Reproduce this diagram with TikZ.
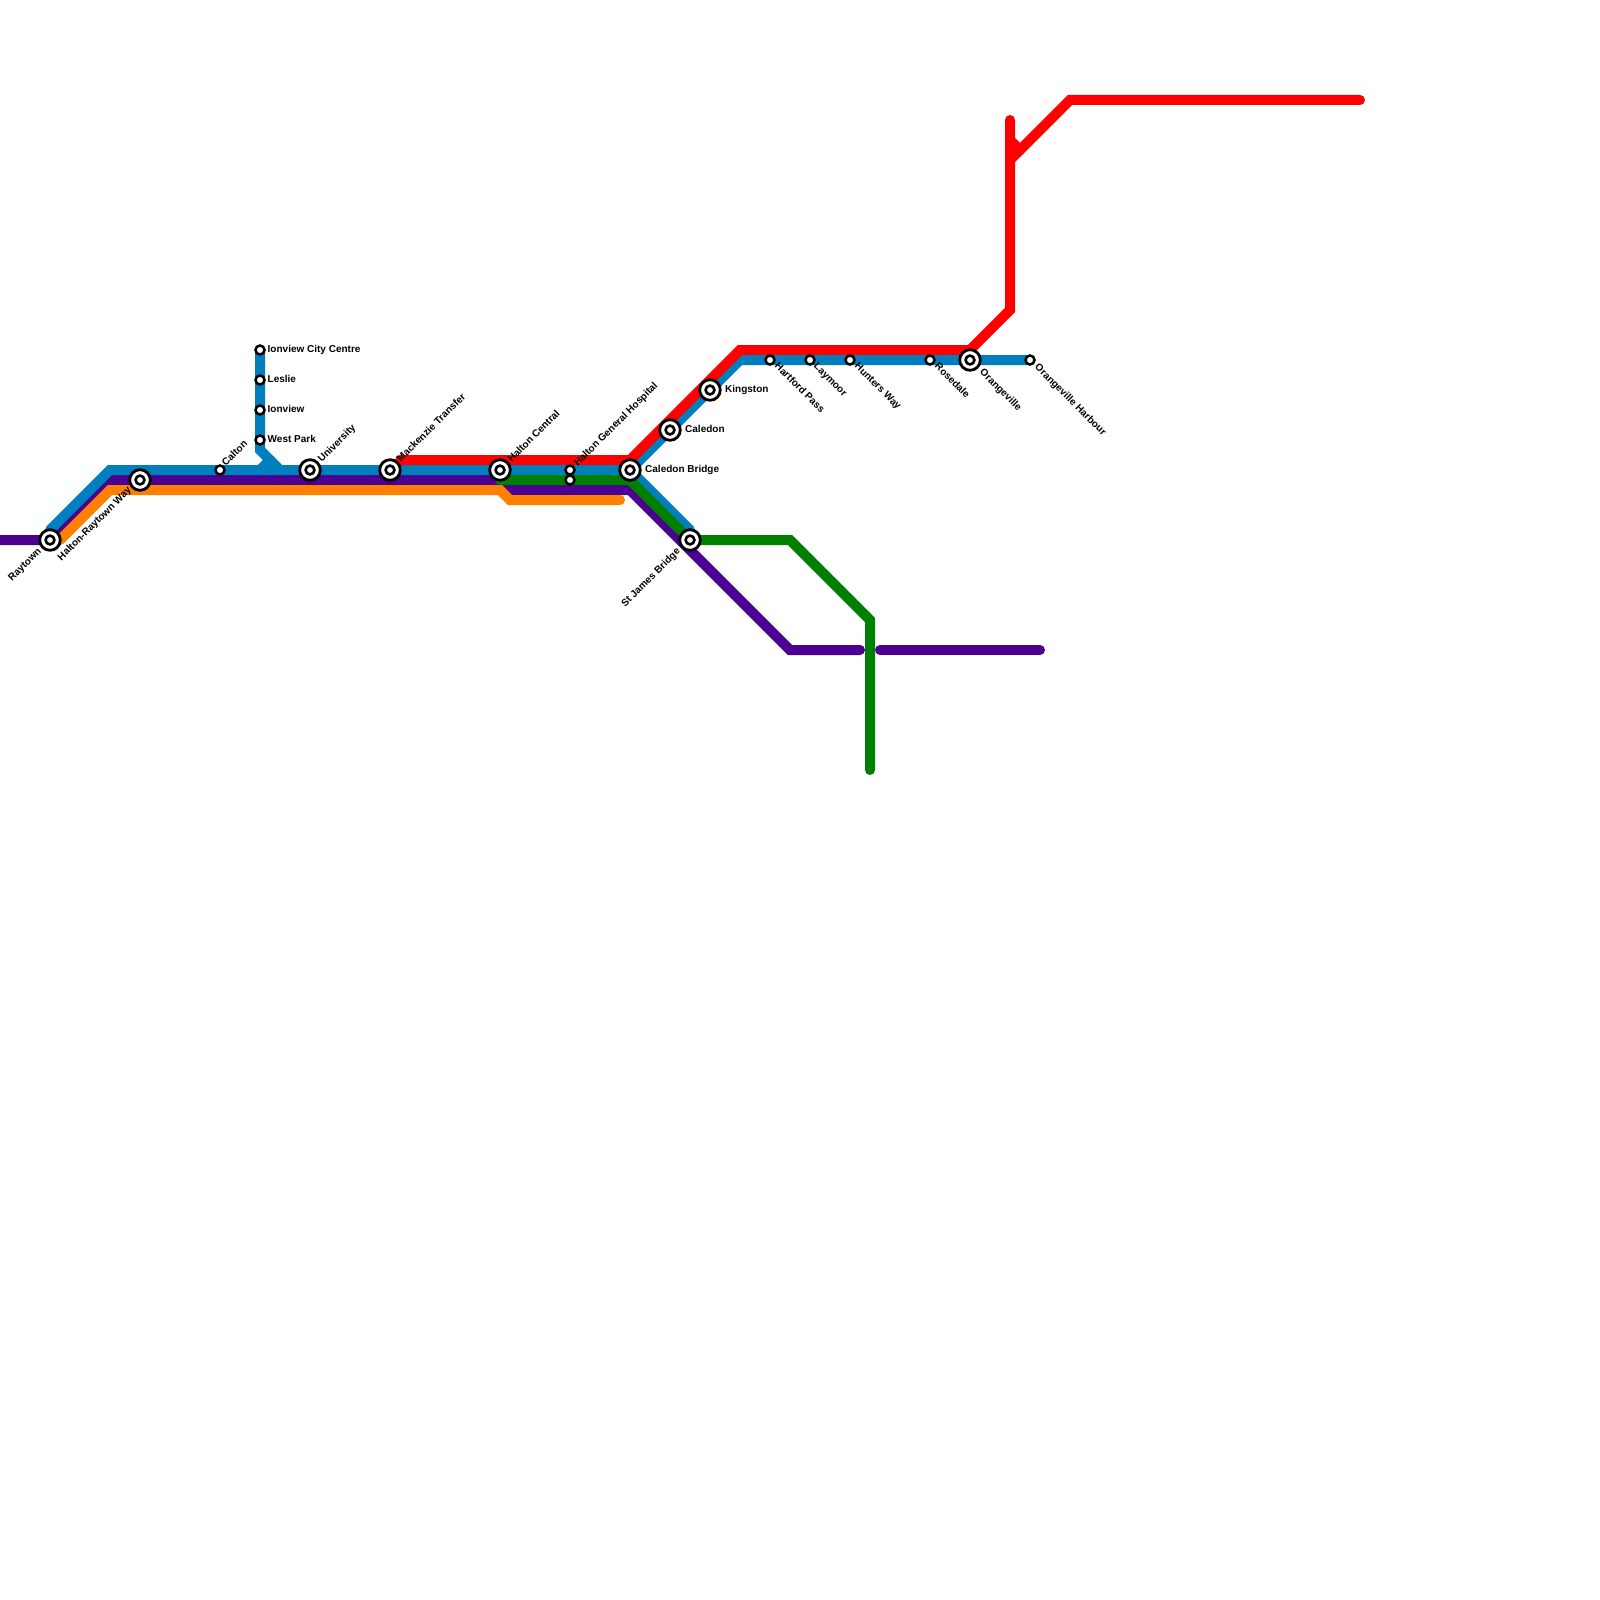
\documentclass[tikz,border=0pt]{standalone}
\usepackage{fontspec}
\setmainfont{Liberation Sans}
\definecolor{lblue}{RGB}{0,127,190}
\definecolor{lpurple}{RGB}{75,0,145}
\definecolor{lorange}{RGB}{255,128,0}
\definecolor{lgreen}{RGB}{0,128,0}
\definecolor{lred}{RGB}{255,0,0}
\tikzset{
  metro/.style={line width=10pt,line cap=round,line join=miter,miter limit=10},
  smallst/.style={circle,draw=black,fill=white,line width=2.5pt,minimum size=9pt,inner sep=0pt},
  bigring/.style={circle,draw=black,fill=white,line width=2.8pt,minimum size=20.6pt,inner sep=0pt},
  bigcore/.style={circle,draw=black,fill=white,line width=2.6pt,minimum size=8.8pt,inner sep=0pt},
  lab/.style={inner sep=0pt,text height=7.2pt,text depth=2.1pt,font=\fontsize{10}{12}\selectfont\bfseries,text=black},
  labE/.style={lab,anchor=west},
  labUR/.style={lab,anchor=west,rotate=45},
  labDR/.style={lab,anchor=west,rotate=-45},
  labDL/.style={lab,anchor=east,rotate=45}
}
\newcommand{\bigst}[2]{\node[bigring] (#1) at (#2) {};\node[bigcore] (#1c) at (#2) {};}
\begin{document}
\begin{tikzpicture}[x=1pt,y=-1pt]
\useasboundingbox (0,0) rectangle (1600,1600);
\fill[white] (0,0) rectangle (1600,1600);
% station positions
\coordinate (raytown) at (50,540);
\coordinate (hrw) at (140,480);
\coordinate (calton) at (220,470);
\coordinate (univ) at (310,470);
\coordinate (mack) at (390,470);
\coordinate (hc) at (500,470);
\coordinate (hgh) at (570,470);
\coordinate (hgh2) at (570,480);
\coordinate (cb) at (630,470);
\coordinate (cal) at (670,430);
\coordinate (king) at (710,390);
\coordinate (stj) at (690,540);
\coordinate (hart) at (770,360);
\coordinate (lay) at (810,360);
\coordinate (hunt) at (850,360);
\coordinate (rose) at (930,360);
\coordinate (orange) at (970,360);
\coordinate (harb) at (1030,360);
\coordinate (icc) at (260,350);
\coordinate (les) at (260,380);
\coordinate (ion) at (260,410);
\coordinate (wp) at (260,440);
% waypoints
\coordinate (w0) at (0,540);
\coordinate (p1) at (110,480);
\coordinate (p2) at (500,480);
\coordinate (p3) at (510,490);
\coordinate (p4) at (630,490);
\coordinate (p5) at (790,650);
\coordinate (p6) at (860,650);
\coordinate (p7) at (880,650);
\coordinate (p8) at (1040,650);
\coordinate (b0) at (50,530);
\coordinate (b1) at (110,470);
\coordinate (b2) at (740,360);
\coordinate (b3) at (690,530);
\coordinate (b4) at (260,450);
\coordinate (b5) at (280,470);
\coordinate (b6) at (270,460);
\coordinate (b7) at (260,470);
\coordinate (o0) at (60,540);
\coordinate (o1) at (110,490);
\coordinate (o2) at (500,490);
\coordinate (o3) at (510,500);
\coordinate (o4) at (620,500);
\coordinate (g1) at (630,480);
\coordinate (g2) at (790,540);
\coordinate (g3) at (870,620);
\coordinate (g4) at (870,770);
\coordinate (r0) at (400,460);
\coordinate (r1) at (630,460);
\coordinate (r2) at (740,350);
\coordinate (r3) at (970,350);
\coordinate (r4) at (1010,310);
\coordinate (r5) at (1010,120);
\coordinate (r6) at (1010,160);
\coordinate (r7) at (1070,100);
\coordinate (r8) at (1360,100);
\coordinate (r9) at (1010,140);
\coordinate (r10) at (1020,150);
% lines
\draw[metro,lpurple] (w0) -- (raytown) -- (p1) -- (p2) -- (p3) -- (p4) -- (p5) -- (p6);
\draw[metro,lpurple] (p7) -- (p8);
\draw[metro,lblue] (b0) -- (b1) -- (cb) -- (b2) -- (harb);
\draw[metro,lblue] (cb) -- (b3);
\draw[metro,lblue] (icc) -- (b4) -- (b5);
\draw[metro,lblue] (b6) -- (b7);
\draw[metro,lorange] (o0) -- (o1) -- (o2) -- (o3) -- (o4);
\draw[metro,lgreen] (p2) -- (g1) -- (stj) -- (g2) -- (g3) -- (g4);
\draw[metro,lred] (r0) -- (r1) -- (r2) -- (r3) -- (r4) -- (r5);
\draw[metro,lred] (r6) -- (r7) -- (r8);
\draw[metro,lred] (r9) -- (r10);
% stations
\bigst{sRaytown}{raytown}
\bigst{sHrw}{hrw}
\bigst{sUniv}{univ}
\bigst{sMack}{mack}
\bigst{sHc}{hc}
\bigst{sCb}{cb}
\bigst{sCal}{cal}
\bigst{sKing}{king}
\bigst{sStj}{stj}
\bigst{sOrange}{orange}
\node[smallst] (sCalton) at (calton) {};
\node[smallst] (sHgh) at (hgh) {};
\node[smallst] (sHgh2) at (hgh2) {};
\node[smallst] (sHart) at (hart) {};
\node[smallst] (sLay) at (lay) {};
\node[smallst] (sHunt) at (hunt) {};
\node[smallst] (sRose) at (rose) {};
\node[smallst] (sHarb) at (harb) {};
\node[smallst] (sIcc) at (icc) {};
\node[smallst] (sLes) at (les) {};
\node[smallst] (sIon) at (ion) {};
\node[smallst] (sWp) at (wp) {};
% labels
\node[labE] (tIcc) at (267.5,350) {Ionview City Centre};
\node[labE] (tLes) at (267.5,380) {Leslie};
\node[labE] (tIon) at (267.5,410) {Ionview};
\node[labE] (tWp) at (267.5,440) {West Park};
\node[labE] (tCb) at (645,470) {Caledon Bridge};
\node[labE] (tCal) at (685,430) {Caledon};
\node[labE] (tKing) at (725,390) {Kingston};
\node[labUR] (tCalton) at (224,465) {Calton};
\node[labUR] (tUniv) at (320,461) {University};
\node[labUR] (tMack) at (399,461) {Mackenzie Transfer};
\node[labUR] (tHc) at (510,461) {Halton Central};
\node[labUR] (tHgh) at (576,465) {Halton General Hospital};
\node[labDR] (tHart) at (776,365) {Hartford Pass};
\node[labDR] (tLay) at (815,365) {Laymoor};
\node[labDR] (tHunt) at (856,365) {Hunters Way};
\node[labDR] (tRose) at (936,365) {Rosedale};
\node[labDR] (tOrange) at (981,371) {Orangeville};
\node[labDR] (tHarb) at (1036,366) {Orangeville Harbour};
\node[labDL] (tRaytown) at (40,550) {Raytown};
\node[labDL] (tHrw) at (130,489) {Halton-Raytown Way};
\node[labDL] (tStj) at (679,550) {St James Bridge};
\end{tikzpicture}
\end{document}
